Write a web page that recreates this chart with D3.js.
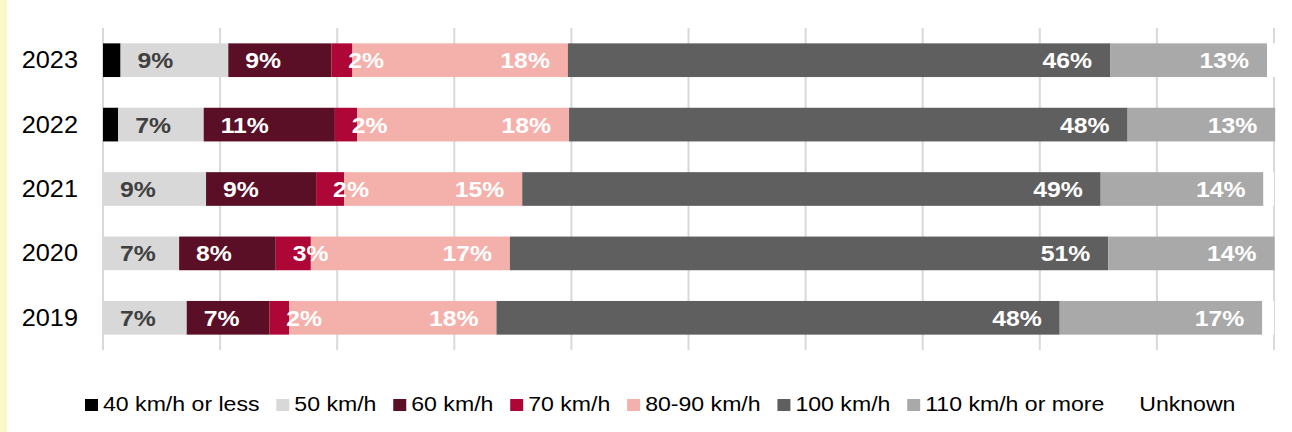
<!DOCTYPE html>
<html>
<head>
<meta charset="utf-8">
<script src="https://cdn.jsdelivr.net/npm/d3@7"></script>
<style>
  html, body { margin: 0; padding: 0; background: #ffffff; }
  svg { display: block; }
  text { font-family: "Liberation Sans", Arial, sans-serif; }
</style>
</head>
<body>
<svg id="chart" width="1292" height="432"></svg>
<script>
// ---- Data ----
const years = ["2023", "2022", "2021", "2020", "2019"];
const seriesNames = ["40 km/h or less", "50 km/h", "60 km/h", "70 km/h", "80-90 km/h", "100 km/h", "110 km/h or more", "Unknown"];
const s40 = [1.5, 1.3, 0, 0, 0];
const s50 = [9.2, 7.3, 8.8, 6.5, 7.15];
const s60 = [8.8, 11.2, 9.4, 8.25, 7.05];
const s70 = [1.8, 1.9, 2.4, 3.0, 1.7];
const s80 = [18.4, 18.1, 15.2, 17.0, 17.7];
const s100 = [46.3, 47.7, 49.4, 51.1, 48.1];
const s110 = [13.4, 12.6, 13.9, 14.2, 17.3];
const sUnknown = [0.7, 0, 0.9, 0, 1.0];
const xTicks = [0, 10, 20, 30, 40, 50, 60, 70, 80, 90, 100];

// ---- Styles ----
const colors = ["#000000", "#d8d8d8", "#5a0f27", "#ae0636", "#f4b0ab", "#5f5f5f", "#a9a9a9", "#ffffff"];
// label mode per series: none / base / end
const labelMode = ["none", "base", "base", "base", "end", "end", "end", "none"];
const labelColor = ["#fff", "#404040", "#fff", "#fff", "#fff", "#fff", "#fff", "#fff"];
const SX = 1.1; // horizontal text stretch

const allSeries = [s40, s50, s60, s70, s80, s100, s110, sUnknown];
const table = years.map((y, i) => {
  const row = { year: y };
  seriesNames.forEach((n, k) => row[n] = allSeries[k][i]);
  return row;
});

const svg = d3.select("#chart");

// left yellow strip
svg.append("rect").attr("x", 0).attr("y", 0).attr("width", 7).attr("height", 432).attr("fill", "#fdf9c6");

const x = d3.scaleLinear().domain([0, 100]).range([103, 1274]);
const y = d3.scaleBand().domain(years).range([28, 350]).paddingInner(0.477).paddingOuter(0.2385);

// gridlines
svg.append("g").selectAll("line").data(xTicks).join("line")
  .attr("x1", d => x(d)).attr("x2", d => x(d))
  .attr("y1", 28).attr("y2", 350)
  .attr("stroke", "#d9d9d9").attr("stroke-width", 2);

const stack = d3.stack().keys(seriesNames)(table);

const layers = svg.append("g").selectAll("g").data(stack).join("g")
  .attr("fill", (d, i) => colors[i]);

layers.selectAll("rect").data(d => d).join("rect")
  .attr("x", d => x(d[0]))
  .attr("y", d => y(d.data.year))
  .attr("width", d => Math.max(0, x(d[1]) - x(d[0])))
  .attr("height", y.bandwidth());

// value labels
stack.forEach((layer, k) => {
  if (labelMode[k] === "none") return;
  layer.forEach(d => {
    const v = d[1] - d[0];
    if (v <= 0) return;
    const yc = y(d.data.year) + y.bandwidth() / 2 + 8;
    let tx, anchor;
    if (labelMode[k] === "base") { tx = x(d[0]) + 17; anchor = "start"; }
    else { tx = x(d[1]) - 18; anchor = "end"; }
    svg.append("text")
      .attr("transform", `translate(${tx},${yc}) scale(${SX},1)`)
      .attr("text-anchor", anchor)
      .attr("font-size", 22.5)
      .attr("font-weight", "bold")
      .attr("fill", labelColor[k])
      .text(Math.round(v) + "%");
  });
});

// year labels
svg.append("g").selectAll("text").data(years).join("text")
  .attr("transform", d => `translate(78,${y(d) + y.bandwidth() / 2 + 8}) scale(${SX},1)`)
  .attr("text-anchor", "end")
  .attr("font-size", 23)
  .attr("fill", "#000")
  .text(d => d);

// legend
const legend = svg.append("g");
let lx = 85;
seriesNames.forEach((n, k) => {
  legend.append("rect").attr("x", lx).attr("y", 399).attr("width", 13).attr("height", 12)
    .attr("fill", colors[k]);
  const t = legend.append("text")
    .attr("transform", `translate(${lx + 18},411) scale(${SX},1)`)
    .attr("font-size", 21)
    .attr("fill", "#000")
    .text(n);
  const w = t.node().getComputedTextLength() * SX;
  lx = lx + 18 + w + 16.8;
});
</script>
</body>
</html>
